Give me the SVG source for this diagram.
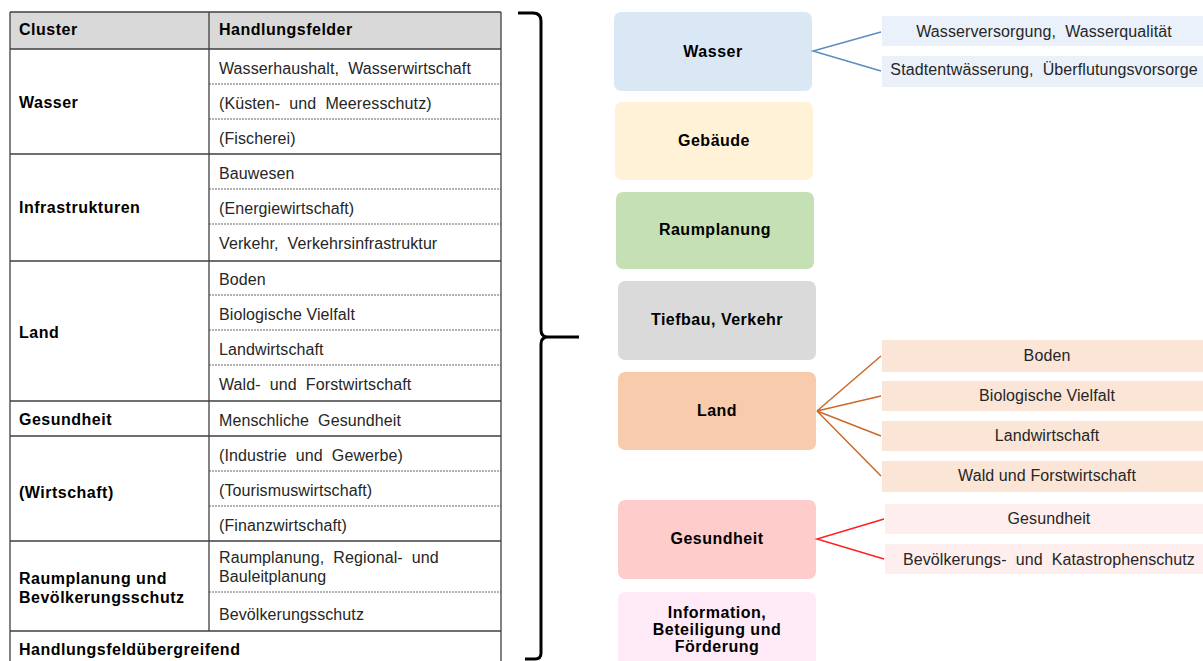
<svg xmlns="http://www.w3.org/2000/svg" width="1203" height="661" viewBox="0 0 1203 661">
<style>
text{font-family:"Liberation Sans",Arial,sans-serif;white-space:pre;}
.c{font-size:16px;font-weight:bold;fill:#000;letter-spacing:0.5px;}
.h{font-size:16px;fill:#262626;letter-spacing:0.1px;}
.sol{stroke:#404040;stroke-width:1.3;fill:none;}
.dash{stroke:#404040;stroke-width:0.8;stroke-dasharray:2,1;fill:none;}
.nb{font-size:16px;font-weight:bold;fill:#000;text-anchor:middle;letter-spacing:0.5px;}
.sub{font-size:16px;fill:#262626;text-anchor:middle;letter-spacing:0.1px;}
</style>
<rect width="1203" height="661" fill="#fff"/>
<g id="table">
<rect x="10" y="12" width="491" height="37" fill="#d9d9d9"/>
<path class="sol" d="M10,12H501M10,49H501M10,154H501M10,261H501M10,401H501M10,436H501M10,541H501M10,631H501M10,12V661M501,12V661M209,12V631"/>
<path class="dash" d="M209,84H501M209,119H501M209,189H501M209,224H501M209,295H501M209,330H501M209,365H501M209,471H501M209,506H501M209,592H501"/>
<text class="c" x="19" y="35">Cluster</text>
<text class="c" x="219" y="35">Handlungsfelder</text>
<text class="c" x="19" y="108">Wasser</text>
<text class="h" x="219" y="74" xml:space="preserve">Wasserhaushalt,  Wasserwirtschaft</text>
<text class="h" x="219" y="109" xml:space="preserve">(Küsten-  und  Meeresschutz)</text>
<text class="h" x="219" y="144">(Fischerei)</text>
<text class="c" x="19" y="213">Infrastrukturen</text>
<text class="h" x="219" y="179">Bauwesen</text>
<text class="h" x="219" y="214">(Energiewirtschaft)</text>
<text class="h" x="219" y="249" xml:space="preserve">Verkehr,  Verkehrsinfrastruktur</text>
<text class="c" x="19" y="338">Land</text>
<text class="h" x="219" y="285">Boden</text>
<text class="h" x="219" y="320">Biologische Vielfalt</text>
<text class="h" x="219" y="355">Landwirtschaft</text>
<text class="h" x="219" y="390" xml:space="preserve">Wald-  und  Forstwirtschaft</text>
<text class="c" x="19" y="425">Gesundheit</text>
<text class="h" x="219" y="426" xml:space="preserve">Menschliche  Gesundheit</text>
<text class="c" x="19" y="498">(Wirtschaft)</text>
<text class="h" x="219" y="461" xml:space="preserve">(Industrie  und  Gewerbe)</text>
<text class="h" x="219" y="496">(Tourismuswirtschaft)</text>
<text class="h" x="219" y="531">(Finanzwirtschaft)</text>
<text class="c" x="19" y="584">Raumplanung und</text>
<text class="c" x="19" y="603">Bevölkerungsschutz</text>
<text class="h" x="219" y="563" xml:space="preserve">Raumplanung,  Regional-  und</text>
<text class="h" x="219" y="582">Bauleitplanung</text>
<text class="h" x="219" y="620">Bevölkerungsschutz</text>
<text class="c" x="19" y="655">Handlungsfeldübergreifend</text>
</g>
<g id="brace">
<path d="M518,13H533Q541,13 541,21V330Q541,337 548,337H579M548,337Q541,337 541,344V653Q541,659 535,659H525" fill="none" stroke="#000" stroke-width="3"/>
</g>
<g id="n-wasser"><rect x="614" y="12" width="198" height="79" rx="7" fill="#dae8f6"/><text class="nb" x="713" y="57">Wasser</text></g>
<g id="n-gebaeude"><rect x="615" y="102" width="198" height="78" rx="7" fill="#fff2d6"/><text class="nb" x="714" y="146">Gebäude</text></g>
<g id="n-raum"><rect x="616" y="192" width="198" height="77" rx="7" fill="#c5e0b4"/><text class="nb" x="715" y="235">Raumplanung</text></g>
<g id="n-tiefbau"><rect x="618" y="281" width="198" height="79" rx="7" fill="#dadada"/><text class="nb" x="717" y="325">Tiefbau, Verkehr</text></g>
<g id="n-land"><rect x="618" y="372" width="198" height="78" rx="7" fill="#f8cbad"/><text class="nb" x="717" y="416">Land</text></g>
<g id="n-gesundheit"><rect x="618" y="500" width="198" height="79" rx="7" fill="#ffcccc"/><text class="nb" x="717" y="544">Gesundheit</text></g>
<g id="n-info"><rect x="618" y="592" width="198" height="80" rx="7" fill="#ffebf7"/><text class="nb" x="717" y="618">Information,</text><text class="nb" x="717" y="635">Beteiligung und</text><text class="nb" x="717" y="652">Förderung</text></g>
<g id="s-w1"><rect x="882" y="16" width="321" height="30" fill="#eaf1fa"/><text class="sub" x="1044" y="37" xml:space="preserve">Wasserversorgung,  Wasserqualität</text></g>
<g id="s-w2"><rect x="882" y="56" width="321" height="31" fill="#eaf1fa"/><text class="sub" x="1044" y="75" xml:space="preserve">Stadtentwässerung,  Überflutungsvorsorge</text></g>
<g id="s-l1"><rect x="882" y="340" width="321" height="32" fill="#fbe5d6"/><text class="sub" x="1047" y="361">Boden</text></g>
<g id="s-l2"><rect x="882" y="381" width="321" height="30" fill="#fbe5d6"/><text class="sub" x="1047" y="401">Biologische Vielfalt</text></g>
<g id="s-l3"><rect x="882" y="421" width="321" height="30" fill="#fbe5d6"/><text class="sub" x="1047" y="441">Landwirtschaft</text></g>
<g id="s-l4"><rect x="882" y="461" width="321" height="31" fill="#fbe5d6"/><text class="sub" x="1047" y="481">Wald und Forstwirtschaft</text></g>
<g id="s-g1"><rect x="885" y="504" width="318" height="30" fill="#ffeeee"/><text class="sub" x="1049" y="524">Gesundheit</text></g>
<g id="s-g2"><rect x="885" y="544" width="318" height="30" fill="#ffeeee"/><text class="sub" x="1049" y="565" xml:space="preserve">Bevölkerungs-  und  Katastrophenschutz</text></g>
<g id="connectors" fill="none" stroke-width="1.5">
<path d="M881,32L813,51L881,71" stroke="#5b8cc0"/>
<path d="M881,356L817,411L881,396M817,411L881,436M817,411L881,476" stroke="#c96a2a"/>
<path d="M884,519L817,539L884,559" stroke="#ff2020"/>
</g>
</svg>
